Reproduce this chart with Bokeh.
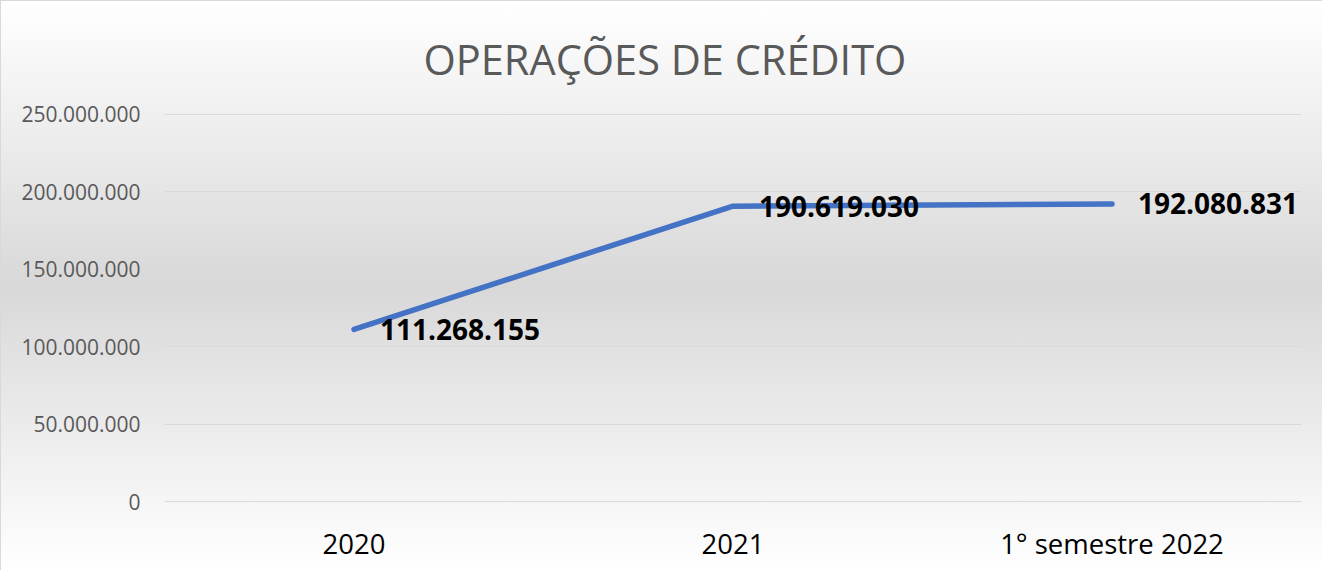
from bokeh.plotting import figure
from bokeh.models import ColumnDataSource, LabelSet, CustomJSTickFormatter, InlineStyleSheet, Range1d
from bokeh.core.properties import value
from bokeh.embed import file_html
from bokeh.resources import INLINE

title_text = "OPERAÇÕES DE CRÉDITO"
categories = ["2020", "2021", "1° semestre 2022"]
values = [111268155, 190619030, 192080831]
labels = [f"{v:,}".replace(",", ".") for v in values]
yticks = [0, 50000000, 100000000, 150000000, 200000000, 250000000]

src = ColumnDataSource(data=dict(x=categories, y=values, lab=labels))

css = InlineStyleSheet(css=""":host { background: linear-gradient(to bottom, #ffffff 0%, #d8d8d8 50%, #ffffff 100%);
 border-top: 1px solid #d9d9d9; border-left: 1px solid #d9d9d9; box-sizing: border-box; }""")

p = figure(x_range=categories, y_range=Range1d(-1000000, 251000000), width=1322, height=570,
           output_backend="svg", toolbar_location=None, title=title_text,
           min_border_left=163, min_border_right=22, min_border_top=111, min_border_bottom=68,
           stylesheets=[css])
p.background_fill_color = None
p.border_fill_color = None
p.outline_line_color = None

p.title.align = "left"
p.title.text_font = "Open Sans"
p.title.text_font_style = "normal"
p.title.text_font_size = "41.5px"
p.title.text_color = "#595959"
p.title.offset = 259
p.title.standoff = 52

p.line(x="x", y="y", source=src, line_color="#4472C4", line_width=5.5, line_cap="round", line_join="round")

p.add_layout(LabelSet(x="x", y="y", text="lab", source=src, x_offset=26, text_baseline="middle",
                      text_font=value("Open Sans"), text_font_style="bold", text_font_size="28px",
                      text_color="#000000"))

p.yaxis.ticker = yticks
p.yaxis.formatter = CustomJSTickFormatter(code='return tick.toFixed(0).replace(/\\B(?=(\\d{3})+(?!\\d))/g, ".");')
p.yaxis.axis_line_color = None
p.yaxis.major_tick_line_color = None
p.yaxis.minor_tick_line_color = None
p.yaxis.major_label_text_font = "Open Sans"
p.yaxis.major_label_text_font_size = "21px"
p.yaxis.major_label_text_color = "#595959"
p.yaxis.major_label_standoff = 18

p.xaxis.axis_line_color = None
p.xaxis.major_tick_line_color = None
p.xaxis.major_label_text_font = "Open Sans"
p.xaxis.major_label_text_font_size = "27.5px"
p.xaxis.major_label_text_color = "#000000"
p.xaxis.major_label_standoff = 15

p.xgrid.grid_line_color = None
p.ygrid.ticker = yticks
p.ygrid.grid_line_color = "#d9d9d9"
p.ygrid.grid_line_width = 1

open("out.html", "w").write(file_html(p, INLINE))
